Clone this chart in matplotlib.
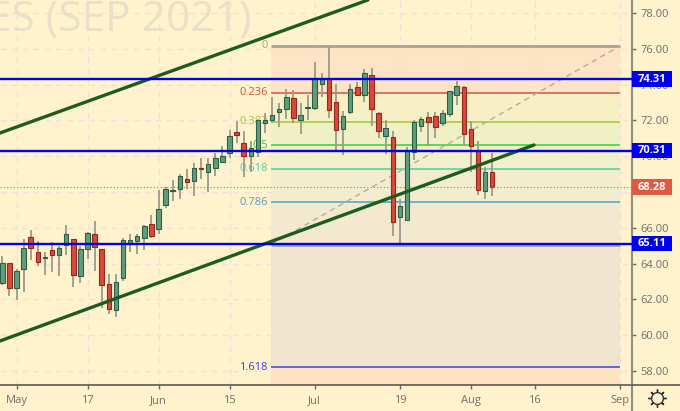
import matplotlib
matplotlib.use('Agg')
import matplotlib.pyplot as plt
from matplotlib.patches import Rectangle
from matplotlib.transforms import blended_transform_factory

plt.rcParams['font.family'] = ['Open Sans', 'DejaVu Sans']

# candles, one bar per row: open, high, low, close
opens = [62.90, 64.01, 62.66, 63.68, 65.47, 64.63, 64.31, 64.74, 64.46, 65.04,
         65.36, 63.33, 64.83, 65.67, 64.80, 62.86, 61.39, 63.21, 65.13, 65.28,
         65.45, 66.19, 65.95, 67.27, 68.05, 68.18, 68.72, 68.61, 69.32, 69.13,
         69.36, 69.67, 70.20, 71.33, 70.75, 70.03, 70.25, 71.87, 72.04, 72.50,
         72.62, 73.25, 72.00, 72.69, 72.71, 74.01, 74.40, 73.01, 71.54, 72.47,
         73.86, 73.45, 74.56, 72.44, 71.15, 71.08, 66.59, 66.46, 70.22, 71.71,
         72.19, 72.23, 71.88, 72.36, 73.40, 73.89, 71.51, 70.29, 68.06, 69.10]
highs = [64.42, 64.01, 63.68, 65.36, 65.88, 65.26, 64.63, 65.22, 64.98, 66.16,
         65.36, 64.98, 65.78, 66.38, 64.80, 63.42, 63.40, 65.41, 65.63, 65.63,
         66.14, 66.71, 68.11, 68.29, 68.70, 69.00, 69.28, 69.60, 69.93, 69.93,
         70.16, 70.60, 71.46, 71.96, 71.42, 70.87, 72.02, 72.43, 73.32, 72.95,
         73.73, 73.70, 72.95, 73.42, 75.24, 74.67, 76.08, 74.03, 72.54, 74.03,
         74.16, 74.85, 74.91, 72.49, 72.03, 71.41, 67.59, 70.50, 72.03, 72.21,
         72.45, 72.49, 72.59, 73.63, 74.21, 73.94, 71.97, 70.85, 69.38, 70.16]
lows = [62.80, 62.21, 61.97, 62.42, 64.20, 63.87, 63.36, 63.51, 63.31, 64.48,
        62.67, 62.90, 64.28, 63.60, 61.50, 61.18, 61.04, 63.03, 64.67, 64.54,
        64.76, 65.43, 65.65, 67.10, 67.51, 67.62, 68.18, 67.79, 68.72, 68.03,
        68.91, 69.60, 69.88, 70.72, 68.86, 69.13, 69.94, 71.28, 71.87, 71.61,
        72.06, 71.87, 71.24, 72.02, 72.58, 73.32, 72.15, 70.34, 70.07, 72.36,
        73.36, 73.04, 71.69, 71.00, 70.13, 65.55, 65.01, 66.46, 69.79, 71.36,
        70.57, 71.04, 71.69, 72.19, 72.86, 70.57, 69.14, 67.86, 67.59, 67.78]
closes = [64.01, 62.66, 63.60, 64.85, 64.89, 64.11, 64.37, 64.46, 64.85, 65.63,
          63.38, 64.80, 65.69, 64.95, 62.80, 61.44, 62.97, 65.30, 65.30, 65.52,
          66.10, 65.56, 67.03, 68.16, 68.11, 68.89, 68.57, 69.37, 69.28, 69.58,
          69.88, 70.01, 71.13, 71.20, 70.03, 70.44, 72.02, 72.02, 72.32, 72.62,
          73.31, 72.15, 72.28, 72.73, 74.29, 74.33, 72.56, 71.48, 72.23, 73.77,
          73.40, 74.67, 72.62, 71.39, 71.56, 66.35, 67.20, 70.31, 71.93, 72.06,
          71.90, 71.64, 72.40, 73.63, 73.94, 71.23, 70.56, 68.12, 69.10, 68.28]

price_ticks = [58, 60, 62, 64, 66, 68, 70, 72, 74, 76, 78]
# 68.00 sits fully behind the last price tag
price_labels = ['58.00', '60.00', '62.00', '64.00', '66.00', '', '70.00', '72.00', '74.00', '76.00', '78.00']
date_ticks = [2, 12, 22, 32, 44, 56, 66, 75, 87]
date_labels = ['May', '17', 'Jun', '15', 'Jul', '19', 'Aug', '16', 'Sep']

sr_levels = [74.31, 70.31, 65.11]
last_price = 68.28

fib_start = 37.8
fib_end = 87
fib_prices = [76.16, 73.54, 71.92, 70.61, 69.30, 67.43, 65.06, 58.20]
fib_names = ['0', '0.236', '0.382', '0.5', '0.618', '0.786', '', '1.618']
fib_colors = ['#a9a294', '#d0534a', '#a4c639', '#2fd32f', '#4fcf9f', '#4f9fc8', '#a9a294', '#4040e0']
fib_fills = ['#fce3c4', '#f7f0c4', '#eff0c6', '#f1efcb', '#f2edd0', '#f2e9cf', '#eee4cf']
fib_below = '#fde3c2'

channel_low_x = [-0.32, 74.89]
channel_low_y = [59.68, 70.63]
channel_up_x = [-0.32, 51.5]
channel_up_y = [71.30, 78.73]

bg = '#fff2cd'
up_fill = '#5f9d7c'
up_edge = '#2c5f45'
down_fill = '#d9483a'
down_edge = '#8e2a20'
wick = '#9c9a8c'
text_grey = '#6f6f6a'

fig = plt.figure(figsize=(6.8, 4.11), dpi=100, facecolor=bg)
ax = fig.add_axes([0, 26 / 411, 632 / 680, 385 / 411], facecolor=bg)
ax.set_xlim(-0.324, 88.69)
ax.set_ylim(57.22, 78.73)

# grid
for p in price_ticks:
    ax.axhline(p, color='#e8e3dc', lw=1, ls=(0, (4, 4)), zorder=0)
for d in date_ticks:
    ax.axvline(d, color='#e8e3dc', lw=1, ls=(0, (4, 4)), zorder=0)

# watermark
ax.text(252 / 632, 1 - 31 / 385, 'ES (SEP 2021)', transform=ax.transAxes, ha='right', va='baseline',
        fontsize=30.5, color='#e9e0c8', zorder=1)

# fibonacci block
for i in range(len(fib_fills)):
    ax.fill_between([fib_start, fib_end], fib_prices[i], fib_prices[i + 1],
                    color=fib_fills[i], lw=0, alpha=0.9, zorder=1)
ax.fill_between([fib_start, fib_end], 57.22, fib_prices[-1], color=fib_below, lw=0, zorder=1)
for p, name, c in zip(fib_prices, fib_names, fib_colors):
    lw = 2 if c == '#a9a294' else 1.1
    ax.plot([fib_start, fib_end], [p, p], color=c, lw=lw, solid_capstyle='butt', zorder=2)
    ax.text(fib_start - 0.4, p, name, color=c, fontsize=8, ha='right', va='center', zorder=2)
ax.plot([fib_start, fib_end], [fib_prices[6], fib_prices[0]], color='#b3ad9f', lw=1,
        ls=(0, (4, 3)), zorder=2)

# candles
for i in range(len(opens)):
    up = closes[i] >= opens[i]
    ax.vlines(i, lows[i], highs[i], color=wick, lw=1.3, zorder=3)
    ax.bar(i, max(abs(closes[i] - opens[i]), 0.05), bottom=min(opens[i], closes[i]), width=0.62,
           color=up_fill if up else down_fill, edgecolor=up_edge if up else down_edge,
           linewidth=0.8, zorder=4)

# drawn lines
ax.axhline(last_price, color='#e0604a', lw=0.8, ls=(0, (1, 2)), zorder=5)
ax.plot(channel_low_x, channel_low_y, color='#1d5c1f', lw=2.4, solid_capstyle='round', zorder=6)
ax.plot(channel_up_x, channel_up_y, color='#1d5c1f', lw=2.4, solid_capstyle='round', zorder=6)
for p in sr_levels:
    ax.axhline(p, color='#0000f0', lw=1.7, zorder=6)

# axes
for s in ['top', 'left']:
    ax.spines[s].set_visible(False)
ax.spines['right'].set_color('#8f8f80')
ax.spines['right'].set_linewidth(1.5)
ax.spines['bottom'].set_color('#5a5a55')
ax.spines['bottom'].set_linewidth(1.2)
ax.yaxis.tick_right()
ax.set_yticks(price_ticks)
ax.set_yticklabels(price_labels)
ax.set_xticks(date_ticks)
ax.set_xticklabels(date_labels)
ax.tick_params(axis='y', length=3, width=1, color='#6a6a64', pad=3, labelsize=8, labelcolor=text_grey)
ax.tick_params(axis='x', length=3, width=1, color='#6a6a64', pad=4, labelsize=8, labelcolor=text_grey)

# price tags on the axis
tr = blended_transform_factory(ax.transAxes, ax.transData)
tags = sr_levels + [last_price]
tag_colors = ['#0000f0', '#0000f0', '#0000f0', '#de5a45']
for p, c in zip(tags, tag_colors):
    ax.add_patch(Rectangle((1, p - 0.43), 40 / 632, 0.86, transform=tr, facecolor=c, edgecolor='none',
                           clip_on=False, zorder=7))
    ax.text(1 + 20 / 632, p, '%.2f' % p, transform=tr, color='white', fontsize=8, fontweight='bold',
            ha='center', va='center', clip_on=False, zorder=8)

# line under the price axis and the settings glyph
fig.add_artist(plt.Line2D([632 / 680, 632 / 680], [0, 26 / 411], color='#8f8f80', lw=1.5))
fig.add_artist(plt.Line2D([632 / 680, 1], [26 / 411, 26 / 411], color='#5a5a55', lw=1.2))
fig.add_artist(plt.Line2D([657 / 680], [13 / 411], marker=(8, 2, 0), ms=13, mew=1, color='#333333',
                          transform=fig.transFigure))
fig.add_artist(plt.Line2D([657 / 680], [13 / 411], marker='o', ms=8.5, mew=1, mec='#333333', mfc=bg,
                          transform=fig.transFigure))

fig.savefig('out.png', dpi=100, facecolor=bg)
